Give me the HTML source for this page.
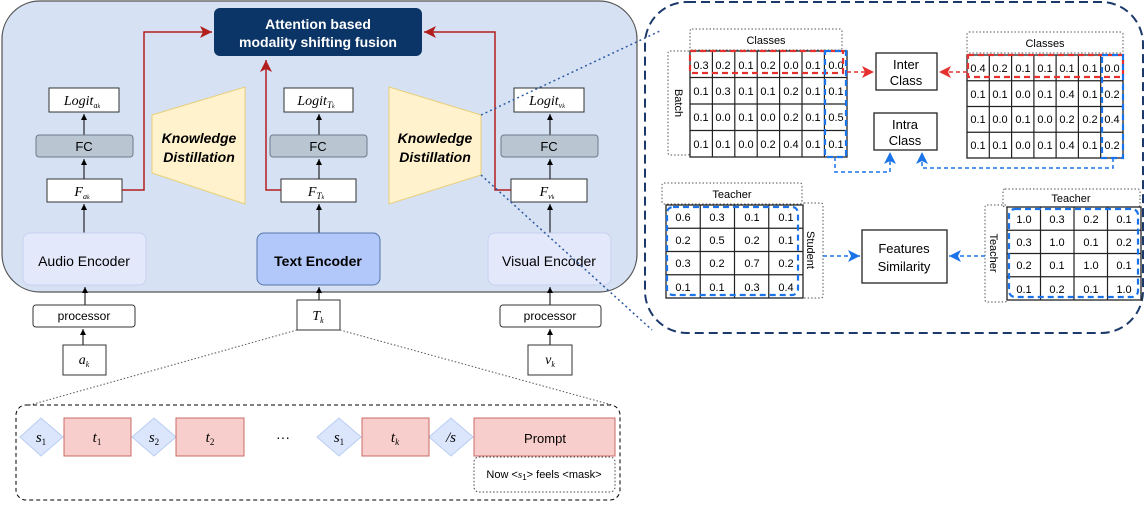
<!DOCTYPE html>
<html><head><meta charset="utf-8"><style>
body{margin:0;background:#fff;}
svg{display:block;font-family:"Liberation Sans",sans-serif;}
.m{font-family:"Liberation Serif",serif;font-style:italic;}
</style></head><body>
<svg width="1147" height="505" viewBox="0 0 1147 505" xmlns="http://www.w3.org/2000/svg">
<defs>
<marker id="ak" markerWidth="8" markerHeight="8" refX="6" refY="3" orient="auto"><path d="M0,0 L6,3 L0,6 Z" fill="#000"/></marker>
<marker id="ar" markerWidth="10" markerHeight="10" refX="8" refY="4" orient="auto"><path d="M0,0 L8,4 L0,8 L2,4 Z" fill="#b21e1e"/></marker>
<marker id="ab" markerWidth="10" markerHeight="10" refX="8" refY="4" orient="auto"><path d="M0,0 L8,4 L0,8 L2,4 Z" fill="#1a73e8"/></marker>
<marker id="ard" markerWidth="10" markerHeight="10" refX="8" refY="4" orient="auto"><path d="M0,0 L8,4 L0,8 L2,4 Z" fill="#e53030"/></marker>
</defs>
<rect x="2" y="1" width="635" height="291" rx="38" fill="#d6e2f4" stroke="#555" stroke-width="1.2"/>
<rect x="214" y="8" width="208" height="48" rx="6" fill="#0b3566"/>
<text x="318" y="29" fill="#fff" font-size="14" font-weight="bold" text-anchor="middle">Attention based</text>
<text x="318" y="47" fill="#fff" font-size="14" font-weight="bold" text-anchor="middle">modality shifting fusion</text>
<polygon points="152,115 245,87 245,204 152,173" fill="#fff2cc" stroke="#e8cf7a"/>
<polygon points="389,87 481,115 481,175 389,204" fill="#fff2cc" stroke="#e8cf7a"/>
<text x="199" y="143" font-size="14" font-weight="bold" font-style="italic" text-anchor="middle">Knowledge</text>
<text x="199" y="162" font-size="14" font-weight="bold" font-style="italic" text-anchor="middle">Distillation</text>
<text x="435" y="143" font-size="14" font-weight="bold" font-style="italic" text-anchor="middle">Knowledge</text>
<text x="435" y="162" font-size="14" font-weight="bold" font-style="italic" text-anchor="middle">Distillation</text>
<g stroke="#000" stroke-width="1" marker-end="url(#ak)">
<line x1="84" y1="233" x2="84" y2="204"/><line x1="84" y1="179" x2="84" y2="159"/><line x1="84" y1="135" x2="84" y2="114"/>
<line x1="319" y1="233" x2="319" y2="204"/><line x1="319" y1="179" x2="319" y2="159"/><line x1="319" y1="135" x2="319" y2="114"/>
<line x1="550" y1="233" x2="550" y2="204"/><line x1="550" y1="179" x2="550" y2="159"/><line x1="550" y1="135" x2="550" y2="114"/>
<line x1="85" y1="305" x2="85" y2="287"/><line x1="83" y1="345" x2="83" y2="329"/>
<line x1="319" y1="300" x2="319" y2="287"/>
<line x1="550" y1="305" x2="550" y2="287"/><line x1="550" y1="345" x2="550" y2="329"/>
</g>
<g fill="#fff" stroke="#333">
<rect x="49" y="88" width="70" height="24"/><rect x="284" y="88" width="69" height="24"/><rect x="514" y="88" width="70" height="24"/>
<rect x="47" y="179" width="75" height="23"/><rect x="281" y="179" width="75" height="23"/><rect x="511" y="179" width="76" height="23"/>
</g>
<g fill="#b9c6d2" stroke="#6b7b8a">
<rect x="36" y="135" width="97" height="22" rx="3"/><rect x="270" y="135" width="97" height="22" rx="3"/><rect x="501" y="135" width="97" height="22" rx="3"/>
</g>
<g font-size="13" text-anchor="middle"><text x="84" y="151">FC</text><text x="318" y="151">FC</text><text x="549" y="151">FC</text></g>
<g class="m" font-size="14" text-anchor="middle">
<text x="82" y="105">Logit<tspan font-size="8" dy="3">a<tspan font-size="6">k</tspan></tspan></text>
<text x="316" y="105">Logit<tspan font-size="9" dy="3">T<tspan font-size="6">k</tspan></tspan></text>
<text x="547" y="105">Logit<tspan font-size="8" dy="3">v<tspan font-size="6">k</tspan></tspan></text>
<text x="82" y="196">F<tspan font-size="8" dy="3">a<tspan font-size="6">k</tspan></tspan></text>
<text x="316" y="196">F<tspan font-size="9" dy="3">T<tspan font-size="6">k</tspan></tspan></text>
<text x="547" y="196">F<tspan font-size="8" dy="3">v<tspan font-size="6">k</tspan></tspan></text>
</g>
<rect x="23" y="233" width="123" height="52" rx="7" fill="#e3e8fb" stroke="#c8d0ef"/>
<rect x="257" y="233" width="123" height="52" rx="7" fill="#b3c8fa" stroke="#5476a8"/>
<rect x="488" y="233" width="123" height="52" rx="7" fill="#e3e8fb" stroke="#c8d0ef"/>
<text x="84" y="266" font-size="14" text-anchor="middle">Audio Encoder</text>
<text x="318" y="266" font-size="14" font-weight="bold" text-anchor="middle">Text Encoder</text>
<text x="549" y="266" font-size="14" text-anchor="middle">Visual Encoder</text>
<g stroke="#b21e1e" stroke-width="1.5" fill="none" marker-end="url(#ar)">
<polyline points="122,190 144,190 144,32 212,32"/>
<polyline points="281,190 266,190 266,60"/>
<polyline points="511,190 495,190 495,32 424,32"/>
</g>
<g fill="#fff" stroke="#333">
<rect x="33" y="305" width="102" height="22" rx="3"/><rect x="500" y="305" width="101" height="22" rx="3"/>
<rect x="297" y="300" width="43" height="30"/>
<rect x="63" y="345" width="43" height="30"/><rect x="528" y="345" width="44" height="30"/>
</g>
<text x="84" y="320" font-size="12" text-anchor="middle">processor</text>
<text x="550" y="320" font-size="12" text-anchor="middle">processor</text>
<text class="m" x="318" y="320" font-size="14" text-anchor="middle">T<tspan font-size="8" dy="3">k</tspan></text>
<text class="m" x="84" y="364" font-size="14" text-anchor="middle">a<tspan font-size="8" dy="3">k</tspan></text>
<text class="m" x="550" y="364" font-size="14" text-anchor="middle">v<tspan font-size="8" dy="3">k</tspan></text>
<g stroke="#555" stroke-dasharray="1.5,2" fill="none">
<line x1="297" y1="330" x2="30" y2="405"/><line x1="340" y1="330" x2="612" y2="405"/>
</g>
<g stroke="#2b5aa0" stroke-dasharray="2,3" stroke-width="1.5" fill="none">
<line x1="481" y1="115" x2="662" y2="30"/><line x1="481" y1="175" x2="652" y2="330"/>
</g>
<rect x="16" y="405" width="604" height="95" rx="10" fill="none" stroke="#000" stroke-dasharray="4,3"/>
<g fill="#dbe6fc" stroke="#b9cdf3">
<polygon points="41,418 63,437 41,456 20,437"/><polygon points="154,418 176,437 154,456 132,437"/>
<polygon points="339,418 361,437 339,456 317,437"/><polygon points="451,418 473,437 451,456 429,437"/>
</g>
<g fill="#f8cecc" stroke="#c96b66">
<rect x="64" y="418" width="67" height="38"/><rect x="176" y="418" width="68" height="38"/>
<rect x="362" y="418" width="67" height="38"/><rect x="474" y="418" width="141" height="38"/>
</g>
<g class="m" font-size="15" text-anchor="middle">
<text x="41" y="442">s<tspan font-size="9" font-style="normal" dy="3">1</tspan></text>
<text x="97" y="442">t<tspan font-size="9" font-style="normal" dy="3">1</tspan></text>
<text x="154" y="442">s<tspan font-size="9" font-style="normal" dy="3">2</tspan></text>
<text x="210" y="442">t<tspan font-size="9" font-style="normal" dy="3">2</tspan></text>
<text x="339" y="442">s<tspan font-size="9" font-style="normal" dy="3">1</tspan></text>
<text x="395" y="442">t<tspan font-size="9" dy="3">k</tspan></text>
<text x="451" y="442">/s</text>
</g>
<text x="283" y="442" font-size="14" text-anchor="middle">···</text>
<text x="545" y="443" font-size="13" text-anchor="middle">Prompt</text>
<rect x="474" y="457" width="141" height="35" rx="5" fill="none" stroke="#444" stroke-dasharray="1.5,2"/>
<text x="544" y="478" font-size="11" text-anchor="middle">Now &lt;<tspan class="m">s</tspan><tspan font-size="8" dy="2">1</tspan><tspan dy="-2">&gt; feels &lt;mask&gt;</tspan></text>
<!-- right panel -->
<rect x="645" y="2" width="498" height="331" rx="42" fill="none" stroke="#1b3a6b" stroke-width="2" stroke-dasharray="9,5"/>
<g stroke="#555" stroke-dasharray="1.5,2" fill="none">
<rect x="690" y="29" width="152" height="21" rx="2"/><rect x="668" y="51" width="22" height="104" rx="2"/>
<rect x="967" y="32" width="156" height="21" rx="2"/>
<rect x="662" y="183" width="140" height="21" rx="2"/><rect x="802" y="203" width="21" height="95" rx="2"/>
<rect x="1003" y="189" width="137" height="18" rx="2"/><rect x="985" y="205" width="22" height="97" rx="2"/>
</g>
<text x="766" y="44" font-size="11" text-anchor="middle">Classes</text>
<text x="1045" y="47" font-size="11" text-anchor="middle">Classes</text>
<text x="732" y="198" font-size="11" text-anchor="middle">Teacher</text>
<text x="1071" y="202" font-size="11" text-anchor="middle">Teacher</text>
<text transform="translate(675,103) rotate(90)" font-size="11" text-anchor="middle">Batch</text>
<text transform="translate(807,250) rotate(90)" font-size="11" text-anchor="middle">Student</text>
<text transform="translate(990,253) rotate(90)" font-size="11" text-anchor="middle">Teacher</text>
<g stroke="#222" stroke-width="1.3" fill="#fff">
<rect x="690" y="51" width="157" height="106"/><rect x="967" y="55" width="156" height="103"/>
<rect x="666" y="205" width="137" height="93"/><rect x="1007" y="207" width="134" height="93"/>
</g>
<g stroke="#222" stroke-width="1.2">
<line x1="712.4" y1="51" x2="712.4" y2="157"/><line x1="734.8" y1="51" x2="734.8" y2="157"/><line x1="757.2" y1="51" x2="757.2" y2="157"/><line x1="779.6" y1="51" x2="779.6" y2="157"/><line x1="802" y1="51" x2="802" y2="157"/><line x1="824.4" y1="51" x2="824.4" y2="157"/>
<line x1="690" y1="77.5" x2="847" y2="77.5"/><line x1="690" y1="104" x2="847" y2="104"/><line x1="690" y1="130.5" x2="847" y2="130.5"/>
<line x1="989.3" y1="55" x2="989.3" y2="158"/><line x1="1011.6" y1="55" x2="1011.6" y2="158"/><line x1="1033.9" y1="55" x2="1033.9" y2="158"/><line x1="1056.1" y1="55" x2="1056.1" y2="158"/><line x1="1078.4" y1="55" x2="1078.4" y2="158"/><line x1="1100.7" y1="55" x2="1100.7" y2="158"/>
<line x1="967" y1="80.75" x2="1123" y2="80.75"/><line x1="967" y1="106.5" x2="1123" y2="106.5"/><line x1="967" y1="132.25" x2="1123" y2="132.25"/>
<line x1="700.25" y1="205" x2="700.25" y2="298"/><line x1="734.5" y1="205" x2="734.5" y2="298"/><line x1="768.75" y1="205" x2="768.75" y2="298"/>
<line x1="666" y1="228.25" x2="803" y2="228.25"/><line x1="666" y1="251.5" x2="803" y2="251.5"/><line x1="666" y1="274.75" x2="803" y2="274.75"/>
<line x1="1040.5" y1="207" x2="1040.5" y2="300"/><line x1="1074" y1="207" x2="1074" y2="300"/><line x1="1107.5" y1="207" x2="1107.5" y2="300"/>
<line x1="1007" y1="230.25" x2="1141" y2="230.25"/><line x1="1007" y1="253.5" x2="1141" y2="253.5"/><line x1="1007" y1="276.75" x2="1141" y2="276.75"/>
</g>
<g font-size="11" text-anchor="middle">
<text x="701" y="69">0.3</text><text x="723" y="69">0.2</text><text x="746" y="69">0.1</text><text x="768" y="69">0.2</text><text x="791" y="69">0.0</text><text x="813" y="69">0.1</text><text x="836" y="69">0.0</text>
<text x="701" y="95">0.1</text><text x="723" y="95">0.3</text><text x="746" y="95">0.1</text><text x="768" y="95">0.1</text><text x="791" y="95">0.2</text><text x="813" y="95">0.1</text><text x="836" y="95">0.1</text>
<text x="701" y="121">0.1</text><text x="723" y="121">0.0</text><text x="746" y="121">0.1</text><text x="768" y="121">0.0</text><text x="791" y="121">0.2</text><text x="813" y="121">0.1</text><text x="836" y="121">0.5</text>
<text x="701" y="148">0.1</text><text x="723" y="148">0.1</text><text x="746" y="148">0.0</text><text x="768" y="148">0.2</text><text x="791" y="148">0.4</text><text x="813" y="148">0.1</text><text x="836" y="148">0.1</text>
<text x="978" y="72">0.4</text><text x="1000" y="72">0.2</text><text x="1023" y="72">0.1</text><text x="1045" y="72">0.1</text><text x="1067" y="72">0.1</text><text x="1090" y="72">0.1</text><text x="1112" y="72">0.0</text>
<text x="978" y="98">0.1</text><text x="1000" y="98">0.1</text><text x="1023" y="98">0.0</text><text x="1045" y="98">0.1</text><text x="1067" y="98">0.4</text><text x="1090" y="98">0.1</text><text x="1112" y="98">0.2</text>
<text x="978" y="123">0.1</text><text x="1000" y="123">0.0</text><text x="1023" y="123">0.1</text><text x="1045" y="123">0.0</text><text x="1067" y="123">0.2</text><text x="1090" y="123">0.2</text><text x="1112" y="123">0.4</text>
<text x="978" y="149">0.1</text><text x="1000" y="149">0.1</text><text x="1023" y="149">0.0</text><text x="1045" y="149">0.1</text><text x="1067" y="149">0.4</text><text x="1090" y="149">0.1</text><text x="1112" y="149">0.2</text>
<text x="683" y="221">0.6</text><text x="717" y="221">0.3</text><text x="752" y="221">0.1</text><text x="786" y="221">0.1</text>
<text x="683" y="244">0.2</text><text x="717" y="244">0.5</text><text x="752" y="244">0.2</text><text x="786" y="244">0.1</text>
<text x="683" y="267">0.3</text><text x="717" y="267">0.2</text><text x="752" y="267">0.7</text><text x="786" y="267">0.2</text>
<text x="683" y="291">0.1</text><text x="717" y="291">0.1</text><text x="752" y="291">0.3</text><text x="786" y="291">0.4</text>
<text x="1024" y="223">1.0</text><text x="1057" y="223">0.3</text><text x="1091" y="223">0.2</text><text x="1124" y="223">0.1</text>
<text x="1024" y="246">0.3</text><text x="1057" y="246">1.0</text><text x="1091" y="246">0.1</text><text x="1124" y="246">0.2</text>
<text x="1024" y="269">0.2</text><text x="1057" y="269">0.1</text><text x="1091" y="269">1.0</text><text x="1124" y="269">0.1</text>
<text x="1024" y="293">0.1</text><text x="1057" y="293">0.2</text><text x="1091" y="293">0.1</text><text x="1124" y="293">1.0</text>
</g>
<g fill="none" stroke-width="2.2" stroke-dasharray="6,4">
<rect x="690" y="51" width="153" height="22" stroke="#e53030"/>
<rect x="968" y="55" width="155" height="22" stroke="#e53030"/>
<rect x="825" y="51" width="21" height="106" stroke="#1a73e8"/>
<rect x="1102" y="55" width="21" height="103" stroke="#1a73e8"/>
<rect x="667" y="207" width="131" height="88" rx="6" stroke="#1a73e8"/>
<rect x="1009" y="209" width="129" height="88" rx="6" stroke="#1a73e8"/>
</g>
<g stroke-width="1.5" stroke-dasharray="4,3" fill="none">
<line x1="847" y1="72" x2="874" y2="72" stroke="#e53030" marker-end="url(#ard)"/>
<line x1="967" y1="72" x2="939" y2="72" stroke="#e53030" marker-end="url(#ard)"/>
<polyline points="835,157 835,172 890,172 890,152" stroke="#1a73e8" marker-end="url(#ab)"/>
<polyline points="1113,158 1113,168 922,168 922,152" stroke="#1a73e8" marker-end="url(#ab)"/>
<line x1="823" y1="256" x2="860" y2="256" stroke="#1a73e8" marker-end="url(#ab)"/>
<line x1="985" y1="256" x2="949" y2="256" stroke="#1a73e8" marker-end="url(#ab)"/>
</g>
<g fill="#fff" stroke="#222" stroke-width="1.3">
<rect x="876" y="53" width="61" height="37"/><rect x="874" y="113" width="63" height="37"/><rect x="862" y="230" width="85" height="53"/>
</g>
<g font-size="13" text-anchor="middle">
<text x="906" y="69">Inter</text><text x="906" y="85">Class</text>
<text x="905" y="129">Intra</text><text x="905" y="145">Class</text>
<text x="904" y="253">Features</text><text x="904" y="271">Similarity</text>
</g>
</svg>
</body></html>
